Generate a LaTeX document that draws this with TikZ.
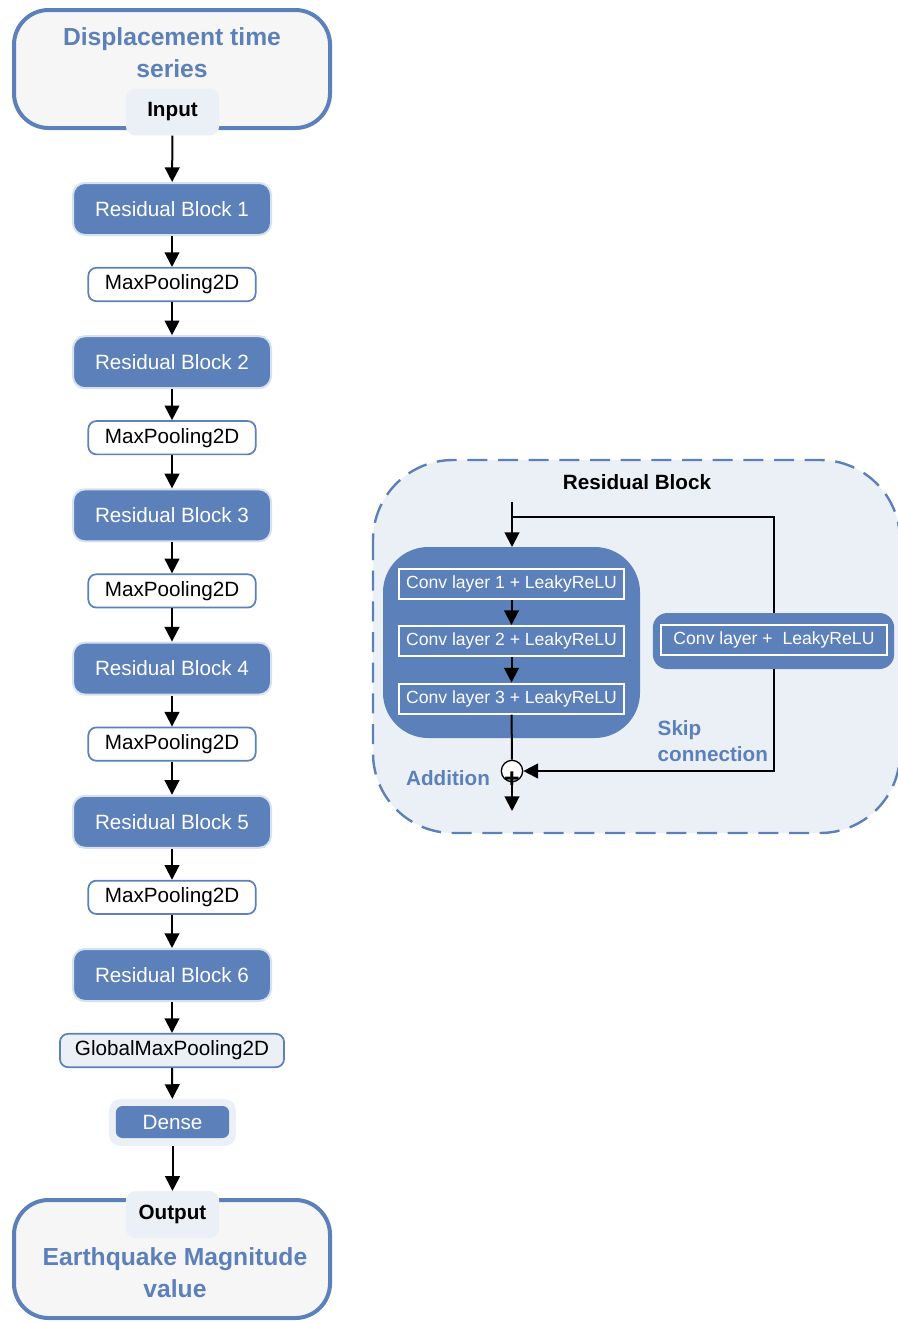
\documentclass[tikz,border=0pt]{standalone}
\usepackage{fontspec}
\setmainfont{Liberation Sans}
\usetikzlibrary{arrows.meta}
\definecolor{netblue}{RGB}{92,128,185}
\definecolor{paleblue}{RGB}{235,240,247}
\definecolor{edgeblue}{RGB}{214,224,238}
\definecolor{offwhite}{RGB}{246,246,246}
\begin{document}
\begin{tikzpicture}[x=0.75pt,y=-0.75pt,
    arr/.style={-{Triangle[length=11pt,width=11pt]},line width=1.5pt},
    line/.style={line width=1.5pt},
    bigbox/.style={draw=netblue,line width=3pt,fill=offwhite,rounded corners=26pt,minimum width=237pt,minimum height=88.5pt},
    tagbox/.style={fill=paleblue,rounded corners=7pt,minimum width=70pt,minimum height=35pt,font=\bfseries\fontsize{15.5}{19}\selectfont},
    resblock/.style={draw=edgeblue,line width=1.5pt,fill=netblue,text=white,rounded corners=9pt,minimum width=148.5pt,minimum height=39pt,font=\fontsize{15.5}{19}\selectfont},
    poolbox/.style={draw=netblue,line width=1.3pt,fill=white,rounded corners=6pt,minimum width=125.5pt,minimum height=25pt,font=\fontsize{15.5}{19}\selectfont},
    convbox/.style={draw=white,line width=1.5pt,fill=netblue,text=white,minimum width=168.5pt,minimum height=22.5pt,font=\fontsize{13.2}{16}\selectfont},
    bluetext/.style={text=netblue,font=\bfseries\fontsize{15.5}{20}\selectfont,align=center}]
    \useasboundingbox (0,0) rectangle (897,1322);

    % main network
    \node[bigbox] (inbox) at (172,69) {};
    \node[bluetext,font=\bfseries\fontsize{18.5}{24}\selectfont] (intext) at (172,53) {Displacement time\\series};
    \node[tagbox] (input) at (172.5,112) {Input};
    \foreach \i in {1,...,6}
    \node[resblock] (rb\i) at (172,{209+153.2*(\i-1)}) {Residual Block \i};
    \foreach \i in {1,...,5}
    \node[poolbox] (mp\i) at (172,{284.5+153.2*(\i-1)}) {MaxPooling2D};
    \node[poolbox,fill=paleblue,minimum width=168pt] (gmp) at (172,1050.5) {GlobalMaxPooling2D};
    \node[fill=paleblue,rounded corners=8pt,minimum width=95pt,minimum height=35pt] (densebg) at (172.5,1122.5) {};
    \node[fill=netblue,text=white,rounded corners=5pt,minimum width=85pt,minimum height=24pt,font=\fontsize{15.5}{19}\selectfont] (dense) at (172.5,1122) {Dense};
    \node[bigbox] (outbox) at (172,1259) {};
    \node[tagbox] (output) at (172.5,1214.5) {Output};
    \node[bluetext,font=\bfseries\fontsize{18.5}{23.5}\selectfont] (outtext) at (175,1272.5) {Earthquake Magnitude\\value};

    \draw[arr] (input) -- (rb1);
    \foreach \i in {1,...,5}
    \draw[arr] (rb\i) -- (mp\i);
    \foreach \i/\j in {1/2, 2/3, 3/4, 4/5, 5/6}
    \draw[arr] (mp\i) -- (rb\j);
    \draw[arr] (rb6) -- (gmp);
    \draw[arr] (gmp) -- (densebg);
    \draw[arr] (densebg) -- (output);

    % residual block detail
    \draw[netblue,fill=paleblue,line width=1.8pt,dash pattern=on 15pt off 8pt,rounded corners=60pt] (373,460) rectangle (900,833);
    \node[font=\bfseries\fontsize{15.5}{19}\selectfont] (rbtitle) at (637,482) {Residual Block};
    \fill[netblue,rounded corners=34pt] (383,547) rectangle (640,738);
    \node[convbox] (c1) at (511.5,584) {Conv layer 1 + LeakyReLU};
    \node[convbox] (c2) at (511.5,641) {Conv layer 2 + LeakyReLU};
    \node[convbox] (c3) at (511.5,698.5) {Conv layer 3 + LeakyReLU};
    \node[fill=netblue,rounded corners=11pt,minimum width=181pt,minimum height=42pt] (skipgrp) at (773.5,641) {};
    \node[convbox,minimum width=169.5pt] (skip) at (774,640) {Conv layer +~ LeakyReLU};
    \coordinate (rbin) at (512,502);
    \coordinate (split) at (512,517);
    \coordinate (grptop) at (512,547);
    \coordinate (rbout) at (512,811);
    \node[circle,draw,fill=white,line width=1pt,minimum size=16pt,inner sep=0pt] (add) at (512,771) {};

    \draw[arr] (rbin) -- (grptop);
    \draw[line] (split) -| (skipgrp.north);
    \draw[arr] (c1) -- (c2);
    \draw[arr] (c2) -- (c3);
    \draw[line] (c3) -- (add);
    \draw[arr] (skipgrp.south) |- (add);
    \draw[arr] (add) -- (rbout);
    \node[font=\bfseries\fontsize{20}{20}\selectfont] (plus) at (512,780) {+};
    \node[bluetext] (addlabel) at (448,778) {Addition};
    \node[bluetext,align=left,anchor=west] (skiplabel) at (653,741) {Skip\\connection};
\end{tikzpicture}
\end{document}
